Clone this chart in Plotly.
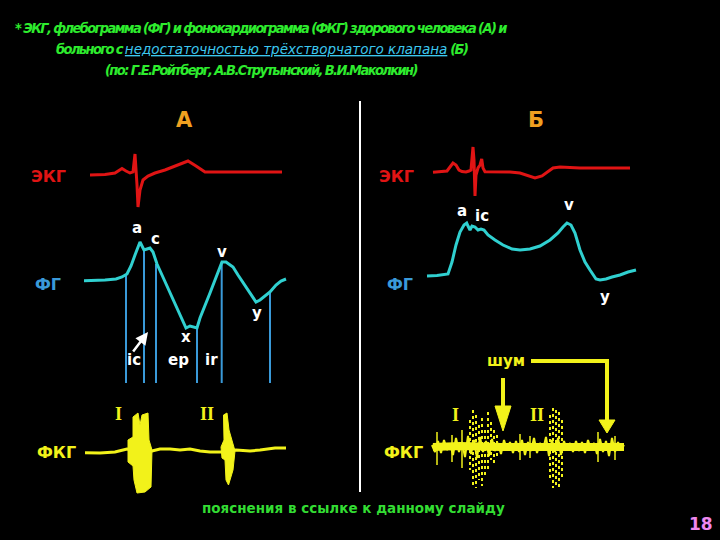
import plotly.graph_objects as go

# ---------------- data (pixel-space of the slide) ----------------
ecgA_x = [90, 105, 115, 119, 122, 126, 130, 133, 135, 137, 138, 140, 143, 148, 155, 165, 175, 188, 196, 205, 230, 260, 282]
ecgA_y = [175, 174.5, 173, 170, 168.5, 171, 173, 172, 154, 185, 207, 190, 180, 176, 173, 170, 166, 161, 166, 172, 172, 172, 172]

fgA_x = [84, 95, 105, 116, 122, 127, 131, 135, 138, 140, 142, 144, 147, 150, 153, 157, 162, 168, 174, 180, 186, 190, 194, 197,
         200, 205, 210, 215, 220, 222, 226, 230, 233, 238, 244, 250, 256, 260, 265, 270, 276, 281, 286]
fgA_y = [280.7, 280.5, 280, 279, 277, 274, 266, 255, 246, 242, 246, 250, 249, 248, 252, 264, 275, 288, 301, 315, 328, 326, 327, 328,
         318, 306, 293, 280, 266, 262, 262, 265, 267, 275, 284, 293, 302, 300, 296, 292, 285, 281, 279]

vlineA_x = [126, 144, 156, 197, 221.7, 270]
vlineA_top = [274, 250, 264, 328, 262, 292]
vline_bottom = 383

fkgA_x = [85, 100, 115, 124, 127, 152, 160, 170, 180, 190, 200, 210, 221, 236, 250, 260, 275, 286]
fkgA_y = [452.7, 453, 452, 450, 449, 451, 449, 449, 450, 449, 451, 452, 452, 450, 451, 450, 448, 448]

burstA1_x = [128, 133, 133, 138, 140, 142, 148, 149, 152, 151, 145, 137, 134, 133, 128, 128]
burstA1_y = [440, 437, 417, 413, 425, 415, 413, 440, 450, 487, 492, 493, 480, 466, 462, 440]
burstA2_x = [221, 224, 223.5, 227, 229, 235, 233, 228.5, 226, 225, 222, 221]
burstA2_y = [447, 440, 415, 413, 430, 451, 470, 485, 480, 460, 458, 447]

ecgB_x = [433, 440, 447, 450, 453, 456, 459, 462, 466, 469, 471, 473, 474, 475, 476, 478, 480, 481.7, 483, 485, 495,
          510, 520, 528, 535, 542, 548, 553, 560, 580, 600, 630]
ecgB_y = [172.3, 172, 171, 167, 163, 165, 170, 171.5, 172, 171, 170, 147, 160, 196, 175, 168, 165, 159, 168, 171.7, 171.7,
          172, 173, 176, 178, 176, 172, 168, 167, 168, 168, 168]

fgB_x = [427, 437, 448, 452, 456, 460, 464, 466.7, 468, 470, 472, 475, 478, 481, 484, 488, 495, 503, 512, 520, 530, 540,
         550, 558, 563, 567, 571, 575, 580, 585, 590, 593, 596, 600, 606, 612, 620, 628, 636]
fgB_y = [276, 275.5, 274, 262, 245, 232, 225, 223, 226, 230, 226, 227, 230, 229, 230, 235, 240, 245, 249, 250, 249, 246,
         240, 233, 227, 223, 225, 233, 250, 262, 270, 275, 279, 280, 279, 277, 275, 272, 270]

fkgB_x = [432, 435, 438, 441, 444, 447, 450, 453, 456, 459, 462, 465, 468, 471, 474, 477, 480, 483, 486, 489, 492, 495,
          498, 501, 504, 507, 510, 513, 516, 519, 522, 525, 528, 531, 534, 537, 540, 543, 546, 549, 552, 555, 558, 561,
          564, 567, 570, 573, 576, 579, 582, 585, 588, 591, 594, 597, 600, 603, 606, 609, 612, 615, 618, 621, 624]
fkgB_y = [445, 452, 441, 453, 440, 450, 444, 455, 438, 452, 442, 457, 436, 454, 440, 458, 437, 452, 441, 456, 439, 451,
          443, 454, 440, 450, 442, 453, 441, 452, 440, 455, 442, 451, 438, 453, 443, 450, 437, 456, 440, 452, 438, 455,
          441, 450, 443, 452, 441, 451, 442, 453, 440, 450, 443, 454, 439, 452, 441, 456, 438, 452, 442, 450, 445]
fkgB_core_x = [433, 460, 500, 540, 580, 624]
fkgB_core_y = [447, 446, 447, 446, 447, 447]

burstB_x = [470, 473, 476, 479, 482, 485, 488, 491, 494, 497, 550, 553, 556, 559, 562]
burstB_top = [420, 410, 415, 425, 418, 430, 412, 422, 430, 435, 415, 408, 410, 412, 420]
burstB_bot = [470, 485, 488, 480, 486, 475, 470, 460, 465, 458, 480, 488, 485, 488, 478]

spikeB_x = [437, 452, 462, 520, 530, 598, 615]
spikeB_top = [432, 435, 430, 434, 436, 432, 436]
spikeB_bot = [465, 462, 468, 460, 458, 462, 460]

arrow1_x = [503, 503]
arrow1_y = [378, 410]
arrow1_head_x = [495, 511, 503, 495]
arrow1_head_y = [406, 406, 431, 406]
arrow2_x = [531, 607, 607]
arrow2_y = [361, 361, 425]
arrow2_head_x = [599, 615, 607, 599]
arrow2_head_y = [420, 420, 433, 420]

divider_x = [360, 360]
divider_y = [101, 492]

title_line1 = "* ЭКГ, флебограмма (ФГ) и фонокардиограмма (ФКГ) здорового человека (А) и"
title_line2a = "больного с "
title_line2b = "недостаточностью трёхстворчатого клапана"
title_line2c = " (Б)"
title_line3 = "(по: Г.Е.Ройтберг, А.В.Струтынский, В.И.Маколкин)"

RED = "#e01414"
CYAN = "#30d0d0"
BLUE = "#3a9ad9"
YEL = "#f2f21a"
WHITE = "#ffffff"

fig = go.Figure()

def line(x, y, color, width, dash=None):
    fig.add_trace(go.Scatter(x=x, y=y, mode="lines", line=dict(color=color, width=width, dash=dash),
                             hoverinfo="skip", showlegend=False))

def poly(x, y, color):
    fig.add_trace(go.Scatter(x=x, y=y, mode="lines", fill="toself", fillcolor=color,
                             line=dict(color=color, width=1), hoverinfo="skip", showlegend=False))

def segs(xs, tops, bots):
    X, Y = [], []
    for x, t, b in zip(xs, tops, bots):
        X += [x, x, None]
        Y += [t, b, None]
    return X, Y

line(divider_x, divider_y, WHITE, 2)

vx, vy = segs(vlineA_x, vlineA_top, [vline_bottom] * len(vlineA_x))
line(vx, vy, BLUE, 2)

line(ecgA_x, ecgA_y, RED, 3)
line(fgA_x, fgA_y, CYAN, 3)
line(fkgA_x, fkgA_y, YEL, 3)
poly(burstA1_x, burstA1_y, YEL)
poly(burstA2_x, burstA2_y, YEL)

line(ecgB_x, ecgB_y, RED, 3)
line(fgB_x, fgB_y, CYAN, 3)
line(fkgB_core_x, fkgB_core_y, YEL, 8)
line(fkgB_x, fkgB_y, YEL, 2)
bx, by = segs(burstB_x, burstB_top, burstB_bot)
line(bx, by, YEL, 2, dash="dot")
sx, sy = segs(spikeB_x, spikeB_top, spikeB_bot)
line(sx, sy, YEL, 1.5)

line(arrow1_x, arrow1_y, YEL, 4)
poly(arrow1_head_x, arrow1_head_y, YEL)
line(arrow2_x, arrow2_y, YEL, 4)
poly(arrow2_head_x, arrow2_head_y, YEL)

ann = []
TITLE_FONT = "DejaVu Sans Condensed, DejaVu Sans, sans-serif"
GREEN = "#2eec2e"
def raw(x, y, s, color, size, family="DejaVu Sans"):
    ann.append(dict(x=x, y=y, xref="x", yref="y", text=s, showarrow=False,
                    font=dict(color=color, size=size, family=family), xanchor="center", yanchor="middle"))

def txt(x, y, s, color, size, family="DejaVu Sans"):
    raw(x, y, f"<b>{s}</b>", color, size, family)

SQ = "letter-spacing:-1.6px"
raw(261, 28, f"<b><i><span style='{SQ}'>{title_line1}</span></i></b>", GREEN, 14.5, TITLE_FONT)
raw(262, 49, (f"<b><i><span style='{SQ}'>{title_line2a}</span>"
              f"<span style='color:#3cc8f0;font-weight:normal;font-family:DejaVu Sans;font-size:13.5px'>"
              f"<u>{title_line2b}</u></span>"
              f"<span style='{SQ}'>{title_line2c}</span></i></b>"), GREEN, 14.5, TITLE_FONT)
raw(261, 70, f"<b><i><span style='{SQ}'>{title_line3}</span></i></b>", GREEN, 14.5, TITLE_FONT)

txt(184, 120, "А", "#f0a020", 21)
txt(536, 120, "Б", "#f0a020", 21)

txt(48, 176, "ЭКГ", RED, 16)
txt(48, 284, "ФГ", BLUE, 16)
txt(56, 452, "ФКГ", YEL, 16)
txt(396, 176, "ЭКГ", RED, 16)
txt(400, 284, "ФГ", BLUE, 16)
txt(403, 452, "ФКГ", YEL, 16)

for (x, y, s) in [(137, 228, "a"), (155, 239, "c"), (222, 252, "v"), (186, 337, "x"), (257, 313, "y"),
                  (134, 360, "ic"), (178, 360, "ep"), (211, 360, "ir"),
                  (462, 211, "a"), (482, 216, "ic"), (569, 205, "v"), (605, 297, "y")]:
    txt(x, y, s, WHITE, 15)

txt(118, 414, "I", YEL, 18, "Liberation Serif")
txt(207, 414, "II", YEL, 18, "Liberation Serif")
txt(455, 415, "I", YEL, 18, "Liberation Serif")
txt(537, 415, "II", YEL, 18, "Liberation Serif")
txt(506, 361, "шум", YEL, 15)

txt(353, 508, "пояснения в ссылке к данному слайду", "#33dd33", 13.5)
txt(701, 524, "18", "#ee88ee", 17)

ann.append(dict(x=148, y=332, ax=132, ay=353, xref="x", yref="y", axref="x", ayref="y", text="",
                showarrow=True, arrowhead=2, arrowsize=1, arrowwidth=2.5, arrowcolor=WHITE))

fig.update_layout(
    width=720, height=540, autosize=False,
    margin=dict(l=0, r=0, t=0, b=0, pad=0),
    paper_bgcolor="black", plot_bgcolor="black",
    xaxis=dict(range=[0, 720], visible=False, fixedrange=True),
    yaxis=dict(range=[540, 0], visible=False, fixedrange=True),
    annotations=ann,
    showlegend=False,
)
fig.write_html("out.html", config={"displayModeBar": False})
